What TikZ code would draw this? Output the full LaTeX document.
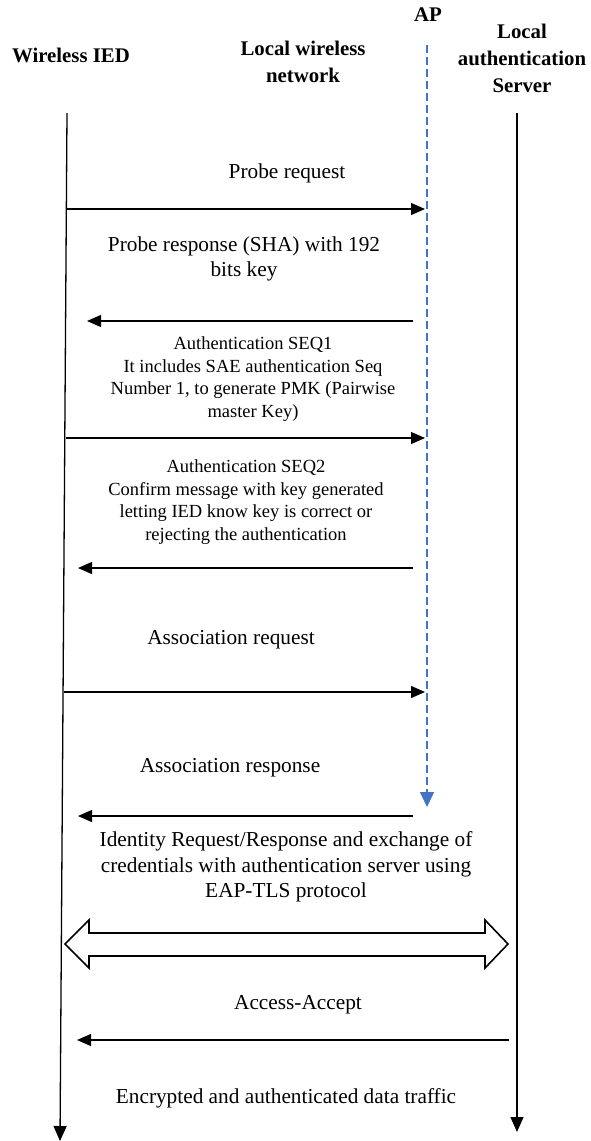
\documentclass[tikz,border=0pt]{standalone}
\usepackage{fontspec}
\setmainfont{Liberation Serif}
\usetikzlibrary{arrows.meta,calc}

\definecolor{apblue}{HTML}{4472C4}

\begin{document}
\begin{tikzpicture}[x=1pt,y=-1pt,
  hdr/.style={font=\fontsize{20.8}{27}\selectfont\bfseries, align=center, inner sep=0pt},
  lbl/.style={font=\fontsize{21.3}{25.5}\selectfont, align=center, inner sep=0pt},
  small/.style={font=\fontsize{18.5}{22.8}\selectfont, align=center, inner sep=0pt},
  msg/.style={line width=1.2pt, -{Triangle[length=14pt,width=12pt]}},
  life/.style={line width=1.3pt, -{Triangle[length=15pt,width=13pt]}},
  apline/.style={apblue, line width=1.4pt, dash pattern=on 8pt off 4pt,
                 -{Triangle[length=15pt,width=14pt]}},
  wide/.style={line width=1.6pt, fill=white, line join=miter},
]
\useasboundingbox (0,0) rectangle (590,1141);

% participants
\node[hdr] (ied) at (71,55) {Wireless IED};
\node[hdr] (lwn) at (303,62) {Local wireless\\network};
\node[hdr] (ap)  at (428,15) {AP};
\node[hdr] (srv) at (522,58) {Local\\authentication\\Server};

% lifelines
\coordinate (iedT) at (67,113);
\coordinate (iedB) at (60,1141);
\coordinate (srvT) at (517,113);
\coordinate (srvB) at (517,1132);
\coordinate (apT)  at (427,45);
\coordinate (apB)  at (427,807);
\draw[life] (iedT) -- (iedB);
\draw[life] (srvT) -- (srvB);
\draw[apline] (apT) -- (apB);

% probe request
\node[lbl] (m1) at (287,173) {Probe request};
\coordinate (m1a) at (67,209);  \coordinate (m1b) at (425,209);
\draw[msg] (m1a) -- (m1b);

% probe response
\node[lbl] (m2) at (244,259) {Probe response (SHA) with 192\\bits key};
\coordinate (m2a) at (413,321); \coordinate (m2b) at (87,321);
\draw[msg] (m2a) -- (m2b);

% SAE commit
\node[small] (m3) at (253,379) {Authentication SEQ1\\It includes SAE authentication Seq\\Number 1, to generate PMK (Pairwise\\master Key)};
\coordinate (m3a) at (66,438);  \coordinate (m3b) at (425,438);
\draw[msg] (m3a) -- (m3b);

% SAE confirm
\node[small] (m4) at (246,502) {Authentication SEQ2\\Confirm message with key generated\\letting IED know key is correct or\\rejecting the authentication};
\coordinate (m4a) at (413,568); \coordinate (m4b) at (78,568);
\draw[msg] (m4a) -- (m4b);

% association
\node[lbl] (m5) at (231,640) {Association request};
\coordinate (m5a) at (64,692);  \coordinate (m5b) at (425,692);
\draw[msg] (m5a) -- (m5b);

\node[lbl] (m6) at (230,768) {Association response};
\coordinate (m6a) at (413,816); \coordinate (m6b) at (78,816);
\draw[msg] (m6a) -- (m6b);

% EAP-TLS exchange
\node[lbl] (m7) at (286,867) {Identity Request/Response and exchange of\\credentials with authentication server using\\EAP-TLS protocol};
\coordinate (dl) at (65,944);
\coordinate (dr) at (508,944);
\draw[wide] (dl) -- ++(24,-24) -- ++(0,13) -- ($(dr)+(-23,-11)$) -- ++(0,-13) -- (dr)
  -- ++(-23,24) -- ++(0,-12) -- ($(dl)+(24,12)$) -- ++(0,12) -- cycle;

% access accept
\node[lbl] (m8) at (298,1005) {Access-Accept};
\coordinate (m8a) at (509,1040); \coordinate (m8b) at (77,1040);
\draw[msg] (m8a) -- (m8b);

\node[lbl] (m9) at (286,1098) {Encrypted and authenticated data traffic};
\end{tikzpicture}
\end{document}
